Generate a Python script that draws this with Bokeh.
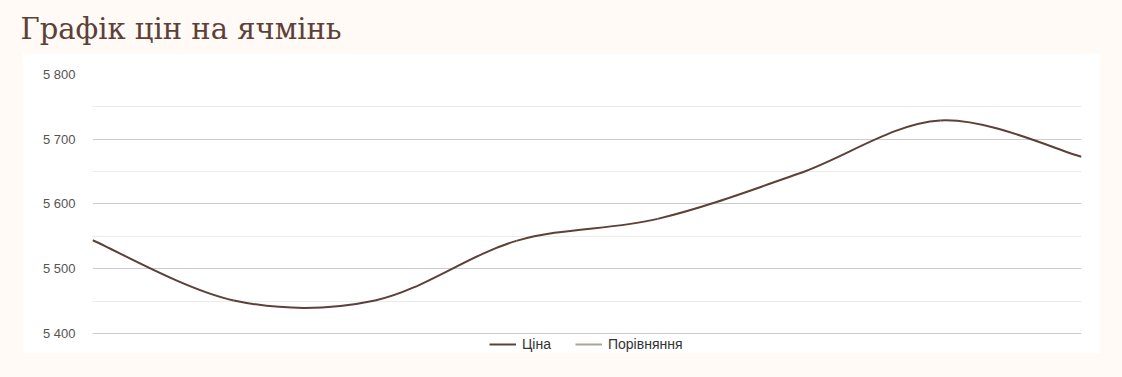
from bokeh.plotting import figure
from bokeh.models import Range1d, FixedTicker, Legend, LegendItem, Spacer
from bokeh.layouts import column, row
from bokeh.core.properties import value
from bokeh.embed import file_html
from bokeh.resources import INLINE

# ---- data ----
title_text = "Графік цін на ячмінь"
points = [0, 1, 2, 3, 4, 5, 6, 7]
price = [5544, 5451, 5451, 5543, 5577, 5647, 5729, 5673]
series_names = ["Ціна", "Порівняння"]
y_ticks = [5400, 5500, 5600, 5700, 5800]
y_minor = [5450, 5550, 5650, 5750]
y_tick_labels = ["5 400", "5 500", "5 600", "5 700", "5 800"]

BROWN = "#5d4037"
CMP = "#a9a794"
CREAM = "#fffaf6"

# ---- title strip ----
pt = figure(width=1122, height=53, output_backend="svg", toolbar_location=None, title=None,
            x_range=Range1d(0, 1122), y_range=Range1d(53, 0),
            min_border=0, border_fill_color=CREAM, background_fill_color=CREAM,
            outline_line_color=None)
pt.axis.visible = False
pt.grid.visible = False
pt.text(x=[20], y=[28], text=[title_text], text_font=value("DejaVu Serif"),
        text_font_size="29px", text_color=BROWN, text_baseline="alphabetic")

# ---- main chart ----
p = figure(width=1078, height=300, output_backend="svg", toolbar_location=None, title=None,
           x_range=Range1d(points[0], points[-1]), y_range=Range1d(5369, 5800),
           min_border_left=70, min_border_right=19, min_border_top=21, min_border_bottom=0,
           border_fill_color="white", background_fill_color="white", outline_line_color=None)

p.xaxis.visible = False
p.xgrid.visible = False
ax = p.yaxis[0]
ax.ticker = FixedTicker(ticks=y_ticks, minor_ticks=y_minor)
ax.major_label_overrides = {t: l for t, l in zip(y_ticks, y_tick_labels)}
ax.axis_line_color = None
ax.major_tick_line_color = None
ax.minor_tick_line_color = None
ax.major_tick_in = 0
ax.major_tick_out = 0
ax.major_label_standoff = 13
ax.major_label_text_font = "Liberation Sans"
ax.major_label_text_font_size = "13px"
ax.major_label_text_color = "#555555"
p.ygrid.grid_line_color = "#cccccc"
p.ygrid.minor_grid_line_color = "#ebebeb"

# smooth curve (Catmull-Rom via bezier segments)
n = len(points)
x0, y0, x1, y1, cx0, cy0, cx1, cy1 = [], [], [], [], [], [], [], []
for i in range(n - 1):
    xm = points[i - 1] if i > 0 else points[i]
    ym = price[i - 1] if i > 0 else price[i]
    xp = points[i + 2] if i + 2 < n else points[i + 1]
    yp = price[i + 2] if i + 2 < n else price[i + 1]
    x0.append(points[i]); y0.append(price[i])
    x1.append(points[i + 1]); y1.append(price[i + 1])
    cx0.append(points[i] + (points[i + 1] - xm) / 6)
    cy0.append(price[i] + (price[i + 1] - ym) / 6)
    cx1.append(points[i + 1] - (xp - points[i]) / 6)
    cy1.append(price[i + 1] - (yp - price[i]) / 6)
p.bezier(x0=x0, y0=y0, x1=x1, y1=y1, cx0=cx0, cy0=cy0, cx1=cx1, cy1=cy1,
         line_color=BROWN, line_width=2)

# legend proxies: single-point lines (draw nothing on the plot)
r1 = p.line(x=points[:1], y=price[:1], line_color=BROWN, line_width=2)
r2 = p.line(x=points[:1], y=price[:1], line_color=CMP, line_width=2)
legend = Legend(items=[LegendItem(label=series_names[0], renderers=[r1]),
                       LegendItem(label=series_names[1], renderers=[r2])],
                orientation="horizontal", location=(397, 1),
                background_fill_alpha=0, border_line_color=None,
                label_text_font="Liberation Sans", label_text_font_size="14px",
                label_text_color="#333333", glyph_width=27, glyph_height=12,
                label_height=12, label_standoff=6, spacing=24, padding=0, margin=0)
p.add_layout(legend, "center")

layout = column(
    pt,
    row(Spacer(width=22, height=300), p, Spacer(width=22, height=300)),
    Spacer(width=1122, height=24),
    styles={"background-color": CREAM},
)

open("out.html", "w").write(file_html(layout, INLINE))
